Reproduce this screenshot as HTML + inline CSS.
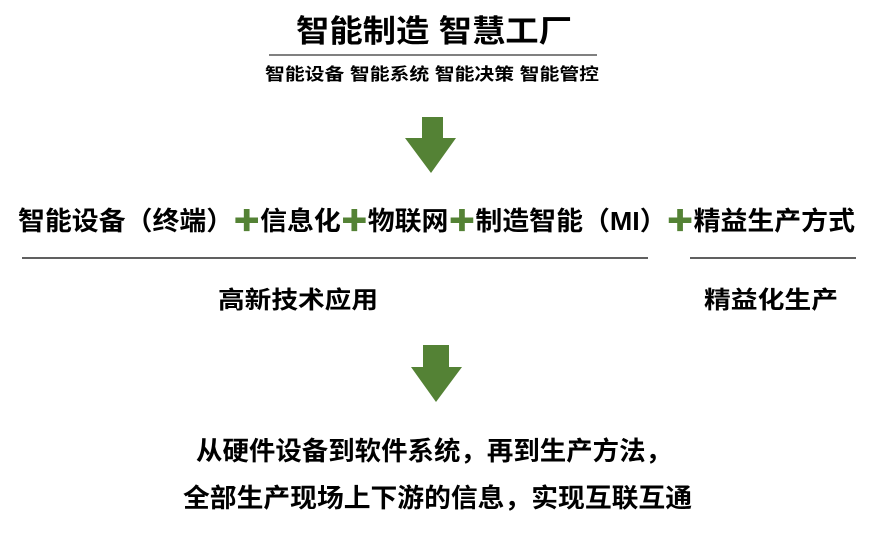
<!DOCTYPE html>
<html><head><meta charset="utf-8"><style>
html,body{margin:0;padding:0;background:#fff;}
svg text{font-family:"Liberation Sans","Noto Sans CJK SC",sans-serif;font-weight:bold;fill:#000;}
</style></head><body>
<svg width="872" height="528" viewBox="0 0 872 528" xmlns="http://www.w3.org/2000/svg" xml:space="preserve">
<text x="296" y="42" font-size="31" textLength="276" lengthAdjust="spacingAndGlyphs">智能制造  智慧工厂</text>
<line x1="269" y1="55" x2="597" y2="55" stroke="#000" stroke-width="1"/>
<text x="265" y="80" font-size="17" textLength="334" lengthAdjust="spacingAndGlyphs">智能设备  智能系统  智能决策  智能管控</text>
<polygon points="422,117 443,117 443,138 456,138 431,173 405,138 422,138" fill="#548235"/>
<text x="18" y="230" font-size="26" textLength="837" lengthAdjust="spacingAndGlyphs">智能设备（终端）<tspan fill="#548235">✚</tspan>信息化<tspan fill="#548235">✚</tspan>物联网<tspan fill="#548235">✚</tspan>制造智能（MI）<tspan fill="#548235">✚</tspan>精益生产方式</text>
<line x1="22" y1="258" x2="648" y2="258" stroke="#000" stroke-width="1.2"/>
<line x1="690" y1="258" x2="856" y2="258" stroke="#000" stroke-width="1.2"/>
<text x="218" y="308" font-size="24" textLength="160" lengthAdjust="spacingAndGlyphs">高新技术应用</text>
<text x="704" y="308" font-size="24" textLength="134" lengthAdjust="spacingAndGlyphs">精益化生产</text>
<polygon points="423,345 449,345 449,367 462,367 436,402 411,367 423,367" fill="#548235"/>
<text x="196" y="460" font-size="26" textLength="476" lengthAdjust="spacingAndGlyphs">从硬件设备到软件系统，再到生产方法，</text>
<text x="183" y="507" font-size="26" textLength="509" lengthAdjust="spacingAndGlyphs">全部生产现场上下游的信息，实现互联互通</text>
</svg>
</body></html>
